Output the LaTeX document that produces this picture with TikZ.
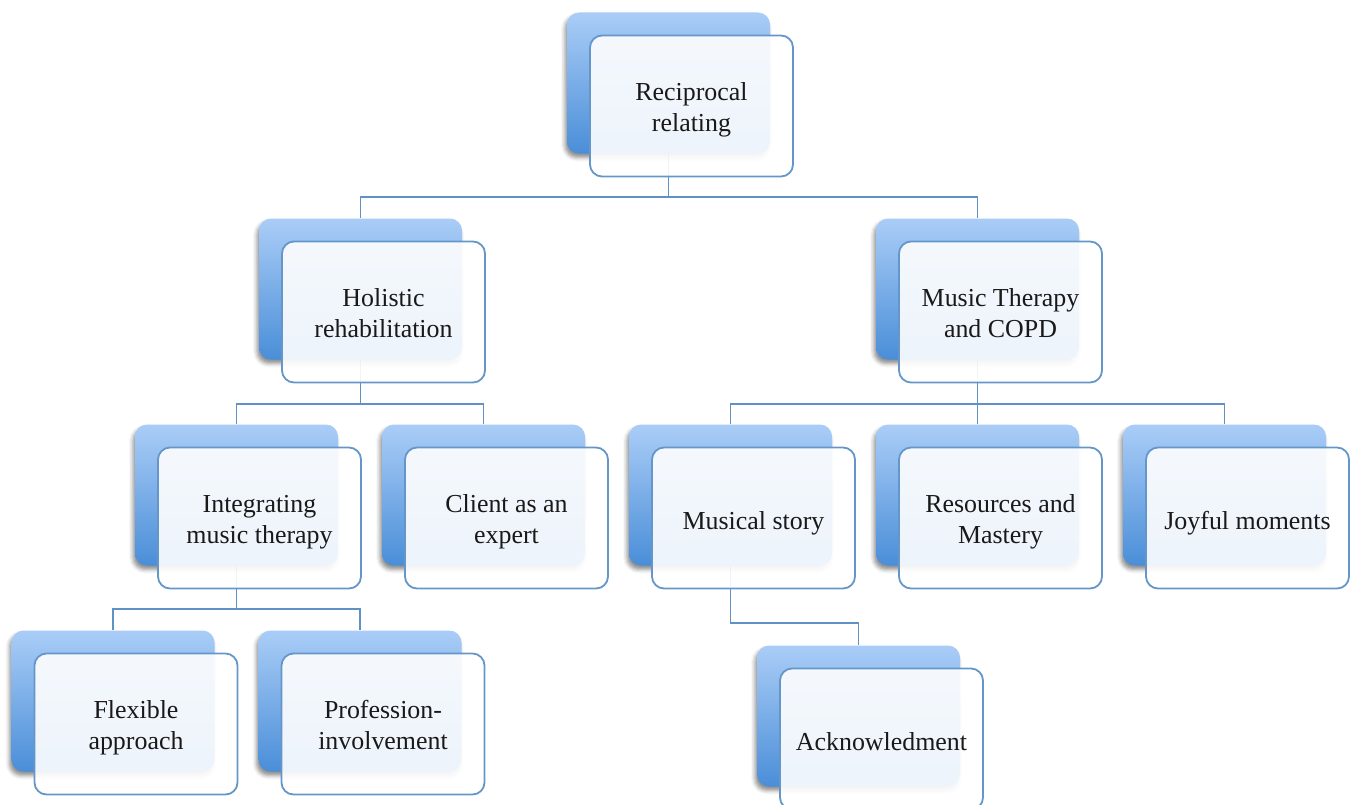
\documentclass[tikz,border=0pt]{standalone}
\usepackage{fontspec}
\setmainfont{Liberation Serif}
\usetikzlibrary{shadows.blur}
\definecolor{backtop}{RGB}{170,205,247}
\definecolor{backbot}{RGB}{74,142,216}
\definecolor{frontline}{RGB}{100,150,202}
\definecolor{connline}{RGB}{95,145,196}
\definecolor{txt}{RGB}{25,25,25}
\pgfdeclarelayer{bg}
\pgfsetlayers{bg,main}
\begin{document}
\begin{tikzpicture}[x=1bp,y=-1bp,
  backbox/.style={rounded corners=12bp, minimum width=203bp, minimum height=141bp,
    top color=backtop, bottom color=backbot, draw=none, inner sep=0,
    blur shadow={shadow xshift=-2bp, shadow yshift=-4bp, shadow blur radius=4bp, shadow opacity=45}},
  frontbox/.style={rounded corners=12bp, minimum width=203bp, minimum height=141bp,
    draw=frontline, line width=1.8bp, fill=white, fill opacity=0.9, text opacity=1,
    align=center, text=txt, font=\fontsize{26}{31}\selectfont, inner sep=0},
  twoline/.style={frontbox, text height=57bp, text depth=6bp},
  oneline/.style={frontbox, text height=28bp, text depth=6bp},
  conn/.style={draw=connline, line width=1.9bp}]
\useasboundingbox (0,0) rectangle (1354,804);
\clip (0,0) rectangle (1354,804);

% level 0
\node[backbox] (Rb) at (668.5,83) {};
\node[twoline] (R) at (691.5,106) {Reciprocal\\relating};
% level 1
\node[backbox] (Hb) at (360.5,289) {};
\node[twoline] (H) at (383.5,312) {Holistic\\rehabilitation};
\node[backbox] (Mb) at (977.5,289) {};
\node[twoline] (M) at (1000.5,312) {Music Therapy\\and COPD};
% level 2
\node[backbox] (Ib) at (236.5,495) {};
\node[twoline] (I) at (259.5,518) {Integrating\\music therapy};
\node[backbox] (Cb) at (483.5,495) {};
\node[twoline] (C) at (506.5,518) {Client as an\\expert};
\node[backbox] (Sb) at (730.5,495) {};
\node[oneline] (S) at (753.5,518) {Musical story};
\node[backbox] (Qb) at (977.5,495) {};
\node[twoline] (Q) at (1000.5,518) {Resources and\\Mastery};
\node[backbox] (Jb) at (1224.5,495) {};
\node[oneline] (J) at (1247.5,518) {Joyful moments};
% level 3
\node[backbox] (Fb) at (113,701) {};
\node[twoline] (F) at (136,724) {Flexible\\approach};
\node[backbox] (Pb) at (360,701) {};
\node[twoline] (P) at (383,724) {Profession-\\involvement};
\node[backbox] (Ab) at (858.5,716) {};
\node[oneline] (A) at (881.5,739) {Acknowledment};

% connectors
\coordinate (y0) at (0,197);
\coordinate (y1) at (0,404);
\coordinate (y2) at (0,609);
\coordinate (y3) at (0,623);
\begin{pgfonlayer}{bg}
\draw[conn] (Rb.south) -- (Rb.south |- y0) -| (Hb.north);
\draw[conn] (Rb.south |- y0) -| (Mb.north);
\draw[conn] (Hb.south) -- (Hb.south |- y1) -| (Ib.north);
\draw[conn] (Hb.south |- y1) -| (Cb.north);
\draw[conn] (Mb.south) -- (Mb.south |- y1) -| (Sb.north);
\draw[conn] (Mb.south |- y1) -| (Jb.north);
\draw[conn] (Mb.south |- y1) -- (Qb.north);
\draw[conn] (Ib.south) -- (Ib.south |- y2) -| (Fb.north);
\draw[conn] (Ib.south |- y2) -| (Pb.north);
\draw[conn] (Sb.south) -- (Sb.south |- y3) -| (Ab.north);
\end{pgfonlayer}
\end{tikzpicture}
\end{document}
